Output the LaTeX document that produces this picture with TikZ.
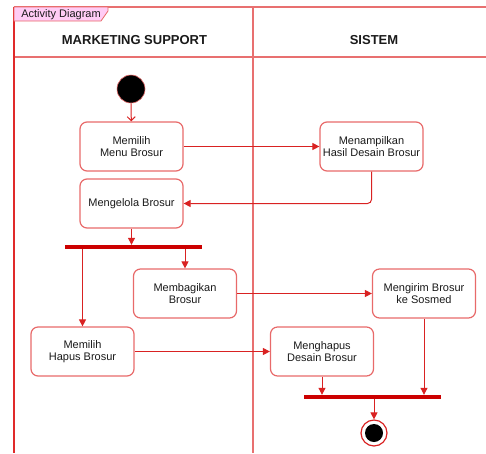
\documentclass[tikz,border=0pt]{standalone}
\usepackage{fontspec}
\setmainfont{Liberation Sans}
\usetikzlibrary{arrows.meta}

\definecolor{borderred}{HTML}{E02A2A}
\definecolor{lanered}{HTML}{E87070}
\definecolor{boxred}{HTML}{E86A6A}
\definecolor{arrred}{HTML}{D92222}
\definecolor{barred}{HTML}{CC0000}
\definecolor{tabpink}{HTML}{FFCCF5}
\definecolor{txt}{HTML}{1A1A1A}

\begin{document}
\begin{tikzpicture}[x=1pt,y=-1pt,
  act/.style={draw=boxred, line width=1.2pt, rounded corners=7pt, fill=white,
    minimum width=103pt, minimum height=49pt, align=center, inner sep=0pt,
    font=\fontsize{11}{12}\selectfont, text=txt},
  flow/.style={draw=arrred, line width=1pt, -{Triangle[length=7pt,width=7pt]}},
  openflow/.style={draw=arrred, line width=1pt, -{Straight Barb[length=4pt,width=8pt]}},
  syncbar/.style={fill=barred, minimum width=137pt, minimum height=4pt, inner sep=0pt},
  lane/.style={draw=lanered, line width=1.2pt},
]
\useasboundingbox (0,0) rectangle (486,453);

% swimlane frame
\draw[lane] (14,7) -- (486,7);
\draw[lane] (14,57) -- (486,57);
\draw[lane] (253,7) -- (253,453);
\draw[draw=borderred, line width=1.3pt] (14,7) -- (14,453);

% frame tab
\draw[draw=boxred, fill=tabpink, line width=0.8pt]
  (14,7) -- (108,7) -- (108,11) -- (101,21) -- (14,21) -- cycle;
\node[font=\fontsize{11}{12}\selectfont, text=txt, inner sep=0pt] (tab) at (61,15) {Activity Diagram};

% lane headers
\node[font=\fontsize{13}{14}\bfseries, text=txt] (laneA) at (134.5,40) {MARKETING SUPPORT};
\node[font=\fontsize{13}{14}\bfseries, text=txt] (laneB) at (374,40) {SISTEM};

% activities
\node[act] (menu) at (131.5,146.5) {Memilih\\Menu Brosur};
\node[act] (kelola) at (131.5,203.5) {Mengelola Brosur};
\node[act] (tampil) at (371.5,146.5) {Menampilkan\\Hasil Desain Brosur};
\node[act] (bagi) at (185,293.5) {Membagikan\\Brosur};
\node[act] (kirim) at (424,293.5) {Mengirim Brosur\\ke Sosmed};
\node[act] (pilihhapus) at (82.5,351.5) {Memilih\\Hapus Brosur};
\node[act] (hapus) at (322,351.5) {Menghapus\\Desain Brosur};

% fork / join bars
\node[syncbar] (fork) at (133.5,247) {};
\node[syncbar] (join) at (372.5,397) {};

% initial and final nodes
\node[circle, fill=black, draw=boxred, line width=0.6pt, minimum size=28pt, inner sep=0pt] (start) at (131,89) {};
\node[circle, fill=white, draw=arrred, line width=1.2pt, minimum size=26pt, inner sep=0pt] (endring) at (374,433) {};
\node[circle, fill=black, minimum size=18pt, inner sep=0pt] (enddot) at (374,433) {};

% control flow
\draw[openflow] (start) -- (menu);
\draw[flow] (menu) -- (tampil);
\draw[flow, rounded corners=4pt] (tampil.south) |- (kelola.east);
\draw[flow] (kelola.south) -- (kelola.south |- fork.north);
\draw[flow] (fork.south -| bagi.north) -- (bagi.north);
\draw[flow] (fork.south -| pilihhapus.north) -- (pilihhapus.north);
\draw[flow] (bagi) -- (kirim);
\draw[flow] (pilihhapus) -- (hapus);
\draw[flow] (hapus.south) -- (hapus.south |- join.north);
\draw[flow] (kirim.south) -- (kirim.south |- join.north);
\draw[flow] (join.south -| endring.north) -- (endring.north);
\end{tikzpicture}
\end{document}
